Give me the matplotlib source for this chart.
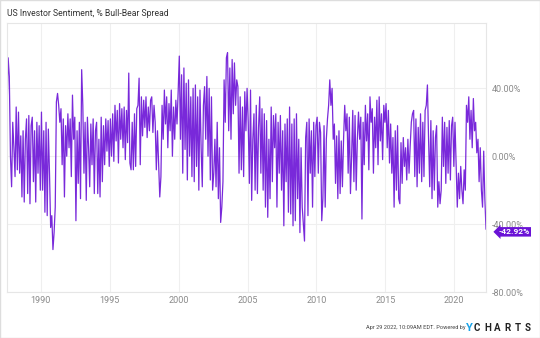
import numpy as np
import matplotlib
matplotlib.use("Agg")
import matplotlib.pyplot as plt
from matplotlib.patches import Rectangle

plt.rcParams['font.family'] = ['Roboto', 'DejaVu Sans']

# monthly bull-bear spread (%), Jul 1987 .. Apr 2022
s1987 = [25, 58, 47, 0, -18, 20]
s1988 = [5, -12, 29, -8, 26, -10, 12, -24, 15, -27, 10, 22]
s1989 = [-22, 24, -28, 18, 23, -15, 15, -27, 20, -10, 18, -20]
s1990 = [26, -20, 15, -33, 20, -35, 16, -10, -42, -35, -55, -45]
s1991 = [-30, 32, 37, 30, 20, 28, -5, 22, -24, 18, 0, 25]
s1992 = [5, 22, -12, 36, 10, 23, -38, 15, -16, 20, -25, 51]
s1993 = [30, -10, 20, -26, 23, 5, -18, 19, -5, 22, -22, 15]
s1994 = [20, -22, 10, -24, 23, -15, 18, -5, 22, 3, 21, -6]
s1995 = [22, 0, 25, -3, 30, 9, 27, -4, 31, 10, 28, 5]
s1996 = [29, -2, 27, 8, 49, -4, -8, 20, -8, 25, -6, 28]
s1997 = [30, 46, -5, 35, 12, 33, 17, 35, 11, 29, 15, 33]
s1998 = [35, 14, 30, 20, -8, 15, -5, -24, -12, 30, 10, 39]
s1999 = [19, 35, 5, 31, 15, 39, 0, 29, 10, 33, 19, 38]
s2000 = [59, 10, 48, -10, 52, 4, 43, -14, 45, 0, 35, -12]
s2001 = [40, -15, 42, -6, 35, -20, 39, 5, -18, 30, 41, 10]
s2002 = [47, 0, 40, -14, 35, -20, -10, 10, -18, 20, -25, 5]
s2003 = [-39, -30, -15, 45, 20, 58, 61, 15, 52, 10, 57, 25]
s2004 = [55, 30, 45, 41, -10, 35, -8, 29, -12, 38, 15, 40]
s2005 = [20, -16, 39, -26, 10, 25, -20, 30, -22, 17, 35, -10]
s2006 = [28, -20, 25, -30, 21, -36, 10, -25, 29, -15, 24, 5]
s2007 = [25, -30, 20, -10, 24, -20, 15, -41, 19, -15, 22, -33]
s2008 = [29, -34, 19, -41, 22, -38, 25, -25, 10, -45, 5, -30]
s2009 = [-40, -50, 11, 20, -35, 22, -10, 15, -30, 20, -12, 18]
s2010 = [23, -10, 20, 14, -38, -25, 18, -30, 10, 22, 30, 45]
s2011 = [30, 40, 10, 19, -16, 12, -25, 15, -22, 9, -18, 10]
s2012 = [30, 15, 25, -10, 23, -22, 0, 27, -15, 24, -20, 10]
s2013 = [26, 10, 23, -37, 20, -5, 30, 9, 25, -8, 35, 20]
s2014 = [28, -10, 23, 5, 33, -5, 35, 9, 25, -2, 30, 20]
s2015 = [31, 5, 27, -4, 19, -10, 11, -30, 15, -20, 18, -25]
s2016 = [-28, 8, -16, 11, -6, 5, -14, 10, -10, 6, 20, 25]
s2017 = [27, -12, 22, -18, 17, -10, 25, -15, 20, -12, 27, 30]
s2018 = [42, 10, -18, 21, -25, 15, -20, 11, 18, -30, -15, -28]
s2019 = [-20, 23, -6, 20, -16, 17, -10, 21, -14, 18, 23, -6]
s2020 = [20, -5, -30, -10, -25, -6, -20, -28, -8, -20, 30, 20]
s2021 = [35, 10, 27, 5, 34, 15, 20, 2, 10, -15, 5, -20]
s2022 = [-30, 3, -25, -42.92]

spread = np.array(s1987 + s1988 + s1989 + s1990 + s1991 + s1992 + s1993 + s1994
                  + s1995 + s1996 + s1997 + s1998 + s1999 + s2000 + s2001 + s2002
                  + s2003 + s2004 + s2005 + s2006 + s2007 + s2008 + s2009 + s2010
                  + s2011 + s2012 + s2013 + s2014 + s2015 + s2016 + s2017 + s2018
                  + s2019 + s2020 + s2021 + s2022)
years = 1987.55 + np.arange(len(spread)) / 12.0

xticks = [1990, 1995, 2000, 2005, 2010, 2015, 2020]
yticks = [40, 0, -40, -80]

purple = '#6a12d6'
grey = '#8a8a8a'

fig = plt.figure(figsize=(5.4, 3.38), dpi=100)
ax = fig.add_axes([7/540, 1 - 292/338, 479/540, 269/338])

ax.plot(years, spread, color=purple, lw=0.9, alpha=0.9)

ax.set_xlim(years[0], years[-1])
ax.set_ylim(-80, 78.5)
ax.set_xticks(xticks)
ax.set_xticklabels([str(y) for y in xticks])
ax.set_yticks(yticks)
ax.set_yticklabels(['%.2f%%' % v for v in yticks])
ax.yaxis.tick_right()
ax.tick_params(length=0, labelsize=6.5, labelcolor=grey)
ax.tick_params(axis='y', pad=4)
ax.tick_params(axis='x', pad=3)
ax.grid(True, color='#efefef', lw=0.8)
ax.set_axisbelow(True)
for sp in ax.spines.values():
    sp.set_color('#e6e6e6')
    sp.set_linewidth(0.8)

# last value tag
ax.annotate('%.2f%%' % spread[-1], xy=(years[-1], spread[-1]),
            xytext=(9, -2), textcoords='offset points', annotation_clip=False,
            color='white', fontsize=6, fontweight='bold', va='center', ha='left',
            bbox=dict(boxstyle='larrow,pad=0.15', fc=purple, ec='none'))

fig.text(7/540, 1 - 13/338, 'US Investor Sentiment, % Bull-Bear Spread',
         fontsize=6.2, color='#333333', va='center', ha='left')

# footer
fy = 1 - 328/338
fig.text(465/540, fy, 'Apr 29 2022, 10:09AM EDT. Powered by',
         fontsize=4.1, color='#444444', va='center', ha='right')
fig.text(466/540, fy, 'Y', fontsize=8, color='#1aa3e8',
         fontweight='bold', va='center', ha='left')
for i, ch in enumerate('CHARTS'):
    fig.text((474 + i * 10.2) / 540, fy, ch, fontsize=7, color='#222222',
             fontweight='bold', va='center', ha='left')

fig.patches.append(Rectangle((0, 0), 1, 1, transform=fig.transFigure,
                             fill=False, ec='#dddddd', lw=1))

fig.savefig('out.png', dpi=100)
